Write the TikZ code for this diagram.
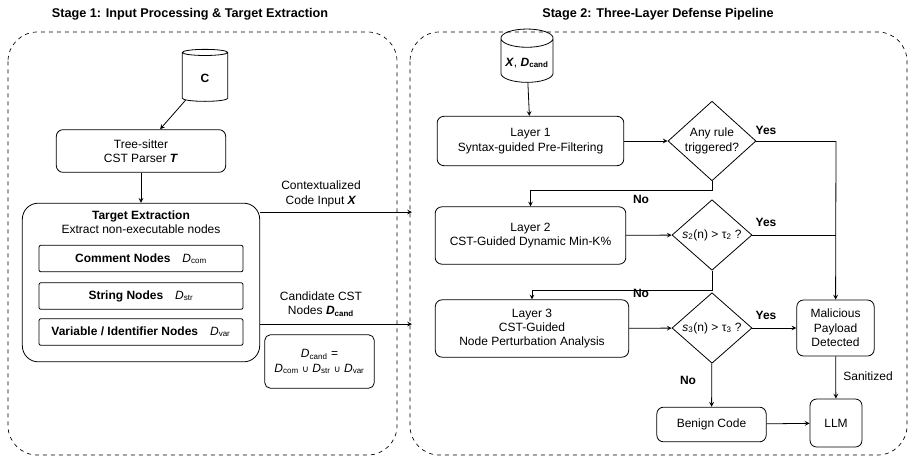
\documentclass[tikz,border=0pt]{standalone}
\usepackage{fontspec}
\setmainfont{Liberation Sans}
\setsansfont{Liberation Sans}
\newfontfamily\symfont{DejaVu Sans}
\usepackage{tikz}
\usetikzlibrary{shapes.geometric, arrows}
\newcommand{\dset}[1]{\textit{D}\textsubscript{#1}}
\newcommand{\dbold}[1]{\textbf{\textit{D}\textsubscript{#1}}}
\newcommand{\setor}{{\symfont\scriptsize ∪}}

\begin{document}
\begin{tikzpicture}[x=0.75pt,y=-0.75pt,font=\fontsize{9}{10.8}\selectfont]
    \tikzstyle{stage} = [draw=black, dashed, rounded corners=22pt, line width=0.5pt]
\tikzstyle{proc} = [rectangle, rounded corners=5pt, draw=black, align=center, inner sep=1pt, line width=0.6pt]
\tikzstyle{dec} = [diamond, draw=black, align=center, inner sep=0pt, line width=0.6pt]
\tikzstyle{db} = [cylinder, shape border rotate=90, aspect=0.35, draw=black, align=center, line width=0.6pt]
\tikzstyle{lbl} = [align=center]
\tikzstyle{arrow} = [line width=0.6pt,->,>=stealth]
\tikzstyle{line} = [line width=0.6pt]
    \useasboundingbox (0,0) rectangle (913,461);

\node (title1) at (190,14) {\bfseries\fontsize{9.5}{11}\selectfont Stage 1: Input Processing \& Target Extraction};
\node (title2) at (658,14) {\bfseries\fontsize{9.5}{11}\selectfont Stage 2: Three-Layer Defense Pipeline};
\draw[stage] (8,32) rectangle (397,455);
\draw[stage] (410,32) rectangle (907,455);

% stage 1
\node (src) [db, minimum width=34pt, minimum height=39pt] at (205,78) {\textbf{C}};
\node (parser) [proc, minimum width=127pt, minimum height=32pt] at (141,151) {Tree-sitter\\CST Parser \textbf{\textit{T}}};
\node (extract) [draw=black, rounded corners=12pt, line width=0.6pt, minimum width=178pt, minimum height=119pt] at (141,282.5) {};
\node (exttext) [lbl] at (141,222) {\textbf{Target Extraction}\\Extract non-executable nodes};
\node (com) [proc, rounded corners=1.5pt, minimum width=153pt, minimum height=20pt] at (141,258.5) {\textbf{Comment Nodes}\quad \dset{com}};
\node (str) [proc, rounded corners=1.5pt, minimum width=153pt, minimum height=20pt] at (141,296) {\textbf{String Nodes}\quad \dset{str}};
\node (var) [proc, rounded corners=1.5pt, minimum width=153pt, minimum height=20pt] at (141,332) {\textbf{Variable / Identifier Nodes}\quad \dset{var}};
\node (union) [proc, rounded corners=4pt, minimum width=82pt, minimum height=40pt] at (319.5,361.5) {\dset{cand} =\\\dset{com} \setor{} \dset{str} \setor{} \dset{var}};
\coordinate (ctxout) at (260,212);
\coordinate (ctxin) at (412,212);
\coordinate (candout) at (260,324);
\coordinate (candin) at (412,324);
\node (ctxlbl) [lbl] at (321,194) {Contextualized\\Code Input \textbf{\textit{X}}};
\node (candlbl) [lbl] at (321,304) {Candidate CST\\Nodes \dbold{cand}};

\draw[arrow] (src) -- (parser);
\draw[arrow] (parser) -- (extract);
\draw[arrow] (ctxout) -- (ctxin);
\draw[arrow] (candout) -- (candin);

% stage 2
\node (inp) [db, minimum width=30pt, minimum height=40pt] at (527,63) {\textbf{\textit{X}}, \dbold{cand}};
\node (l1) [proc, minimum width=140pt, minimum height=37pt] at (530.5,141) {Layer 1\\Syntax-guided Pre-Filtering};
\node (d1) [dec, minimum width=66pt, minimum height=52pt] at (712,141) {Any rule\\triggered?};
\node (l2) [proc, minimum width=143pt, minimum height=43pt] at (530.5,235.5) {Layer 2\\CST-Guided Dynamic Min-K\%};
\node (d2) [dec, minimum width=60pt, minimum height=38pt] at (712,235) {\textit{s}\textsubscript{2}(n) > τ\textsubscript{2} ?};
\node (l3) [proc, minimum width=145pt, minimum height=43pt] at (532,328.5) {Layer 3\\CST-Guided\\Node Perturbation Analysis};
\node (d3) [dec, minimum width=60pt, minimum height=38pt] at (712,328) {\textit{s}\textsubscript{3}(n) > τ\textsubscript{3} ?};
\node (mal) [proc, minimum width=58pt, minimum height=42pt] at (835.5,328) {Malicious\\Payload\\Detected};
\node (ben) [proc, minimum width=82pt, minimum height=26pt] at (711.5,424.5) {Benign Code};
\node (llm) [proc, minimum width=39pt, minimum height=36pt] at (836,423) {LLM};
\coordinate (j1) at (836,141);
\coordinate (j2) at (836,235);

\draw[arrow] (inp) -- (l1);
\draw[arrow] (l1) -- (d1);
\draw[line] (d1.east) -- (j1);
\draw[arrow] (j1) -- (mal);
\draw[line] (d2.east) -- (j2);
\draw[arrow] (d1.south) -- ++(0,9) -| (l2.north);
\draw[arrow] (l2) -- (d2);
\draw[arrow] (d2.south) -- ++(0,20) -| (l3.north);
\draw[arrow] (l3) -- (d3);
\draw[arrow] (d3) -- (mal);
\draw[arrow] (d3) -- (ben);
\draw[arrow] (mal) -- (llm);
\draw[arrow] (ben) -- (llm);

\node (yes1) [lbl] at (766,130) {\textbf{Yes}};
\node (yes2) [lbl] at (766,222) {\textbf{Yes}};
\node (yes3) [lbl] at (766,315) {\textbf{Yes}};
\node (no1) [lbl] at (641,199) {\textbf{No}};
\node (no2) [lbl] at (641,293) {\textbf{No}};
\node (no3) [lbl] at (688,380) {\textbf{No}};
\node (san) [lbl] at (868,376) {Sanitized};
  \end{tikzpicture}
\end{document}
